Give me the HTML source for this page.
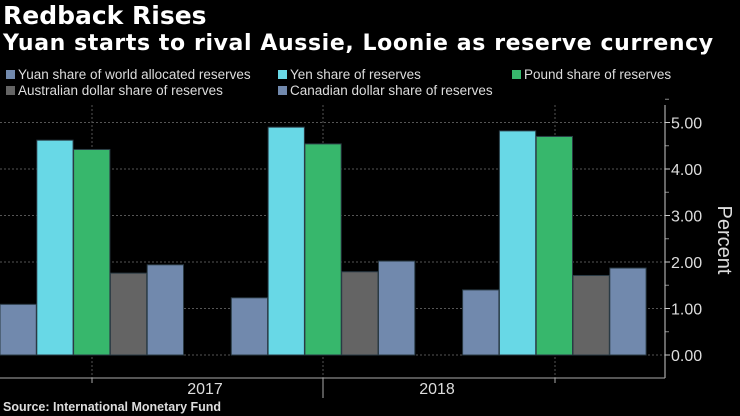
<!DOCTYPE html>
<html><head><meta charset="utf-8"><style>
body{margin:0;background:#000;width:740px;height:416px;overflow:hidden;font-family:"Liberation Sans",sans-serif;color:#fff}
.t{position:absolute;left:3px;white-space:nowrap}
.lg{position:absolute;font-size:13.5px;color:#ddd;white-space:nowrap}
.sw{display:inline-block;width:9px;height:9px;margin-right:3px;vertical-align:0}
</style></head><body>
<div class="t" style="top:1px;font-size:25px;font-weight:bold;font-family:'DejaVu Sans',sans-serif">Redback Rises</div>
<div class="t" style="top:31px;font-size:22px;letter-spacing:0.6px;font-weight:bold;font-family:'DejaVu Sans',sans-serif">Yuan starts to rival Aussie, Loonie as reserve currency</div>
<div class="lg" style="left:6px;top:67px"><span class="sw" style="background:#7189ad"></span>Yuan share of world allocated reserves</div>
<div class="lg" style="left:278px;top:67px"><span class="sw" style="background:#68d8e6"></span>Yen share of reserves</div>
<div class="lg" style="left:512px;top:67px"><span class="sw" style="background:#37b76c"></span>Pound share of reserves</div>
<div class="lg" style="left:6px;top:83px"><span class="sw" style="background:#646464"></span>Australian dollar share of reserves</div>
<div class="lg" style="left:278px;top:83px"><span class="sw" style="background:#7189ad"></span>Canadian dollar share of reserves</div>
<svg id="c" width="740" height="416" style="position:absolute;left:0;top:0"></svg>
<div class="t" style="top:400px;font-size:12.5px;font-weight:bold;color:#ddd">Source: International Monetary Fund</div>
<script>
const categories=["2016","2017","2018"];
const yuan=[1.09,1.23,1.40];
const yen=[4.62,4.90,4.82];
const pound=[4.42,4.54,4.70];
const aud=[1.76,1.79,1.71];
const cad=[1.94,2.02,1.87];
const yTicks=[0,1,2,3,4,5];
const yTickLabels=["0.00","1.00","2.00","3.00","4.00","5.00"];
const xLabels=["2017","2018"];
const series=[yuan,yen,pound,aud,cad];
const colors=["#7189ad","#68d8e6","#37b76c","#646464","#7189ad"];
const names=["yuan","yen","pound","aud","cad"];
const svg=document.getElementById('c');const NS="http://www.w3.org/2000/svg";
function y(v){return 355-v*46.5;}
function gx(i){return i*231.3;}
function mk(t,a,p){const e=document.createElementNS(NS,t);for(const k in a)e.setAttribute(k,a[k]);(p||svg).appendChild(e);return e;}
yTicks.forEach((v,i)=>{
 const g=mk('line',{x1:0,x2:665,y1:y(v),y2:y(v),stroke:'#555','stroke-dasharray':'2,2'});
 
 const tk=mk('line',{x1:665,x2:670,y1:y(v),y2:y(v),stroke:'#ccc'});
 
 const mt=mk('line',{x1:665,x2:669,y1:y(v+0.5),y2:y(v+0.5),stroke:'#888'});
 
 const t=mk('text',{x:671,y:y(v)+6,fill:'#ddd','font-size':16,'font-family':'Liberation Sans'});t.textContent=yTickLabels[i];
 
});
[92,323,555].forEach(x=>{const l=mk('line',{x1:x,x2:x,y1:105,y2:378,stroke:'#555','stroke-dasharray':'2,2'});
 });
categories.forEach((c,i)=>{series.forEach((s,j)=>{
 const x=gx(i)+j*36.8;
 const r=mk('rect',{x:x,y:y(s[i]),width:36.3,height:y(0)-y(s[i]),fill:colors[j],stroke:'#2a3a44','stroke-width':1});
 
});});
let a=mk('line',{x1:665,x2:665,y1:105,y2:378,stroke:'#ccc'});
a=mk('line',{x1:0,x2:665,y1:378,y2:378,stroke:'#aaa'});
[92,323,555].forEach((x,i)=>{const l=mk('line',{x1:x,x2:x,y1:378,y2:i==1?398:383,stroke:'#aaa'});
 });
xLabels.forEach((s,i)=>{const t=mk('text',{x:205+i*232,y:394,fill:'#ddd','font-size':16,'text-anchor':'middle','font-family':'Liberation Sans'});t.textContent=s;
 });
const yt=mk('text',{x:718,y:240,fill:'#ddd','font-size':20,'text-anchor':'middle','font-family':'Liberation Sans',transform:'rotate(90 718 240)'});yt.textContent='Percent';

</script>
</body></html>
